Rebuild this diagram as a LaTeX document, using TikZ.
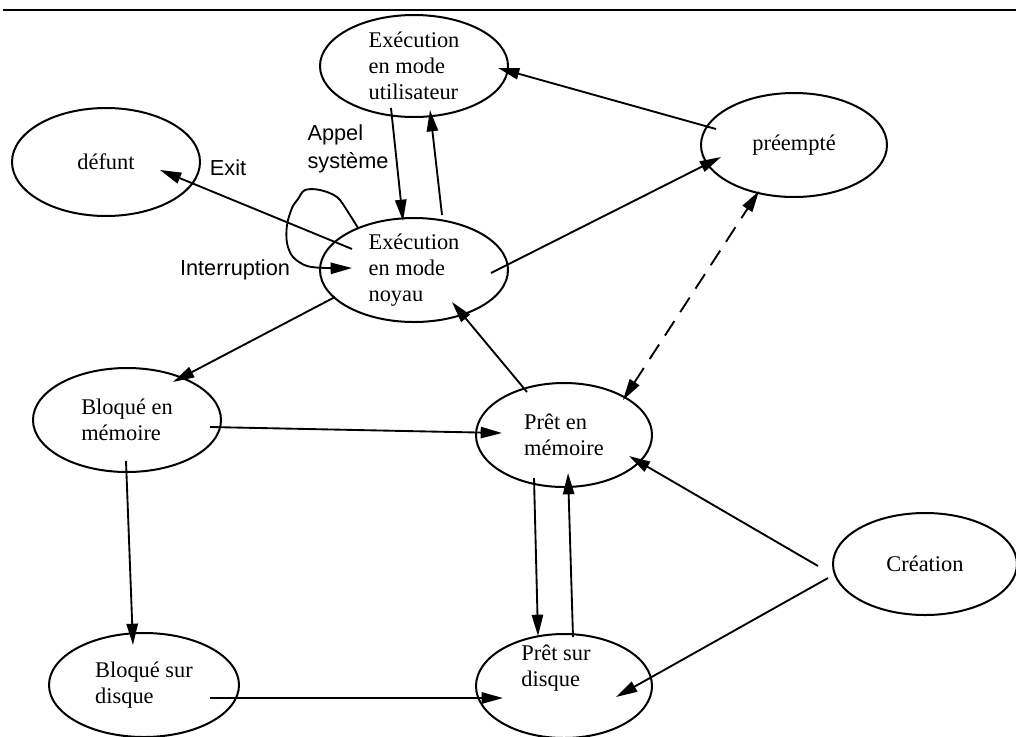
\documentclass[tikz,border=0pt]{standalone}
\usepackage{fontspec}
\setmainfont{Liberation Serif}
\newfontfamily\lsans{Liberation Sans}
\usetikzlibrary{shapes.geometric,arrows.meta,calc}

\tikzset{
  state/.style 2 args={ellipse, draw, line width=1.5pt, inner sep=0pt,
    minimum width=#1*0.75pt, minimum height=#2*0.75pt, align=left,
    font=\fontsize{16.8}{19.5}\selectfont},
  stext/.style={align=left, inner sep=0pt, font=\fontsize{16.8}{19.5}\selectfont},
  lbl/.style={align=left, inner sep=0pt, font=\lsans\fontsize{16.3}{21}\selectfont},
  conn/.style={line width=1.4pt, -{Triangle[length=16pt,width=8.5pt]}},
  dconn/.style={line width=1.4pt, {Triangle[length=16pt,width=8.5pt]}-{Triangle[length=16pt,width=8.5pt]},
    dash pattern=on 13pt off 8pt}
}

\begin{document}
\begin{tikzpicture}[x=0.75pt, y=-0.75pt]
\useasboundingbox (0,0) rectangle (1016,736);

% rule along the top
\draw[line width=1.6pt] (3,10) -- (1016,10);

% process states
\node[state={188}{102}] (eu)  at (414,66)  {Exécution\\en mode\\utilisateur};
\node[state={188}{108}] (def) at (106,162) {défunt};
\node[state={186}{104}] (pre) at (794,145) {préempté};
\node[state={188}{104}] (en)  at (414,270) {Exécution\\en mode\\noyau};
\node[state={188}{104}] (bm)  at (127,420) {Bloqué en\\mémoire};
\node[state={176}{104}] (pm)  at (564,435) {Prêt en\\mémoire};
\node[state={184}{102}] (cre) at (925,564) {Création};
\node[state={190}{104}] (bd)  at (144,685) {Bloqué sur\\disque};
\node[state={176}{104}] (pd)  at (564,686) {};
\node[stext] (pdt) at ($(pd)+(-8,-18)$) {Prêt sur\\disque};

% transition labels
\node[lbl] (lappel) at (348,149) {Appel\\système};
\node[lbl] (lexit)  at (228,168) {Exit};
\node[lbl] (lint)   at (235,270) {Interruption};

% transitions
\draw[conn] ($(eu)+(-23,42)$) -- ($(en)+(-11,-49)$);
\draw[conn] ($(en)+(28,-55)$) -- ($(eu)+(16,44)$);
\draw[conn] ($(pre)+(-78,-16)$) -- ($(eu)+(84,2)$);
\draw[conn] ($(en)+(77,3)$) -- ($(pre)+(-73,12)$);
\draw[dconn] ($(pm)+(59,-35)$) -- ($(pre)+(-35,46)$);
\draw[conn] ($(en)+(-62,-21)$) -- ($(def)+(54,8)$);
\draw[conn] plot[smooth, tension=0.55] coordinates {
  ($(en)+(-56,-42)$) ($(en)+(-66,-58)$) ($(en)+(-77,-73)$) ($(en)+(-94,-80)$)
  ($(en)+(-109,-80)$) ($(en)+(-116,-71)$) ($(en)+(-122,-62)$) ($(en)+(-127,-45)$)
  ($(en)+(-127,-27)$) ($(en)+(-121,-13)$) ($(en)+(-107,-4)$) ($(en)+(-87,-2)$)
  ($(en)+(-62,-2)$)};
\draw[conn] ($(en)+(-79,27)$) -- ($(bm)+(46,-38)$);
\draw[conn] ($(pm)+(-37,-43)$) -- ($(en)+(38,32)$);
\draw[conn] ($(bm)+(83,7)$) -- ($(pm)+(-62,-2)$);
\draw[conn] ($(bm)+(-1,41)$) -- ($(bd)+(-11,-40)$);
\draw[conn] ($(bd)+(66,13)$) -- ($(pd)+(-61,12)$);
\draw[conn] ($(pm)+(-30,43)$) -- ($(pd)+(-26,-50)$);
\draw[conn] ($(pd)+(9,-49)$) -- ($(pm)+(4,38)$);
\draw[conn] ($(cre)+(-107,2)$) -- ($(pm)+(65,21)$);
\draw[conn] ($(cre)+(-97,14)$) -- ($(pd)+(52,11)$);
\end{tikzpicture}
\end{document}
